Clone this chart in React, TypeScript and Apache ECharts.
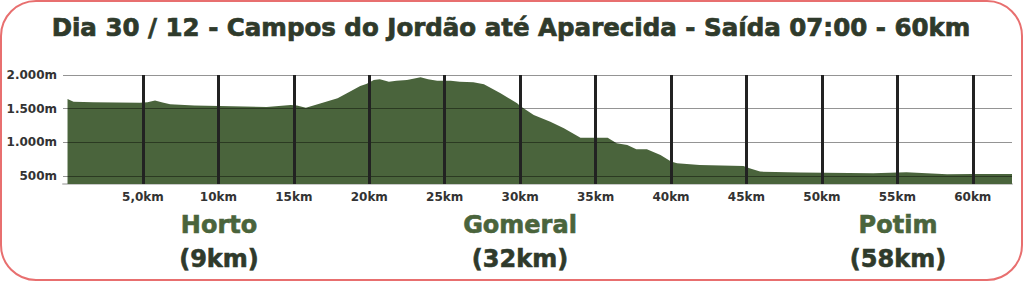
import React, { useEffect, useRef } from "react";
import * as echarts from "echarts";

const TITLE = "Dia 30 / 12 - Campos do Jordão até Aparecida - Saída 07:00 - 60km";

const distanceKm = [
  0, 0.4, 1.7, 4.8, 5.3, 5.8, 6.3, 6.8, 8.4, 11.7, 13.2, 14.8, 15.2, 15.8, 16.8,
  17.9, 18.7, 19.4, 19.8, 20.3, 20.7, 21.3, 21.8, 22.5, 23.4, 23.9, 24.5, 25.4,
  26.0, 26.9, 27.6, 28.7, 29.8, 30.0, 30.9, 32.0, 32.9, 34.0, 35.8, 36.4, 37.1,
  37.7, 38.4, 39.3, 40.0, 40.4, 41.9, 44.8, 45.2, 45.9, 48.6, 53.4, 55.6, 58.3,
  60.0, 62.6,
];
const elevationM = [
  1644, 1604, 1594, 1589, 1595, 1622, 1590, 1565, 1545, 1530, 1525, 1555, 1545,
  1515, 1580, 1654, 1752, 1837, 1866, 1926, 1936, 1901, 1916, 1926, 1966, 1936,
  1916, 1916, 1901, 1891, 1862, 1728, 1580, 1540, 1406, 1307, 1208, 1069, 1069,
  985, 960, 897, 897, 812, 713, 689, 663, 649, 614, 564, 550, 540, 555, 525, 530,
  530,
];

const kmTicks = [5, 10, 15, 20, 25, 30, 35, 40, 45, 50, 55, 60];
const kmTickLabels = ["5,0km", "10km", "15km", "20km", "25km", "30km", "35km", "40km", "45km", "50km", "55km", "60km"];
const elevTicks = [500, 1000, 1500, 2000];
const elevTickLabels = ["500m", "1.000m", "1.500m", "2.000m"];

const stops = ["Horto", "Gomeral", "Potim"];
const stopDistances = ["(9km)", "(32km)", "(58km)"];

const GREEN = "#4a643c";
const DARK = "#2f3a2b";
const FONT = "'DejaVu Sans', sans-serif";

export default function App() {
  const ref = useRef<HTMLDivElement>(null);

  useEffect(() => {
    if (!ref.current) return;
    const chart = echarts.init(ref.current, undefined, { renderer: "svg" });
    const data = distanceKm.map((d, i) => [d, elevationM[i]]);
    const stopX = [219, 520, 898];

    const graphic: any[] = [
      {
        type: "rect",
        shape: { x: 1, y: 1, width: 1021, height: 279, r: 35 },
        style: { fill: "none", stroke: "#e86f6f", lineWidth: 2 },
        silent: true,
      },
      {
        type: "text",
        x: 511,
        y: 27,
        style: {
          text: TITLE,
          fill: DARK,
          stroke: DARK,
          lineWidth: 0.7,
          font: `bold 24.5px ${FONT}`,
          align: "center",
          verticalAlign: "middle",
        },
      },
    ];
    stops.forEach((s, i) => {
      graphic.push({
        type: "text",
        x: stopX[i],
        y: 225,
        style: { text: s, fill: GREEN, stroke: GREEN, lineWidth: 0.6, font: `bold 24px ${FONT}`, align: "center", verticalAlign: "middle" },
      });
      graphic.push({
        type: "text",
        x: stopX[i],
        y: 259,
        style: { text: stopDistances[i], fill: DARK, stroke: DARK, lineWidth: 0.6, font: `bold 24px ${FONT}`, align: "center", verticalAlign: "middle" },
      });
    });

    chart.setOption({
      animation: false,
      grid: { left: 63, right: 12, top: 75, bottom: 98, containLabel: false },
      xAxis: {
        type: "value",
        min: -0.3,
        max: 62.6,
        axisLine: { show: true, lineStyle: { color: "#c8c8c8", width: 2 } },
        axisTick: { show: false },
        splitLine: { show: false },
        axisLabel: {
          customValues: kmTicks,
          margin: 7,
          color: "#333",
          fontFamily: FONT,
          fontWeight: "bold",
          fontSize: 12,
          formatter: (v: number) => {
            const i = kmTicks.indexOf(v);
            return i >= 0 ? kmTickLabels[i] : "";
          },
        },
      },
      yAxis: {
        type: "value",
        min: 380,
        max: 2000,
        axisLine: { show: false },
        axisTick: { show: false },
        splitLine: { show: false },
        axisLabel: {
          customValues: elevTicks,
          margin: 6,
          color: "#333",
          fontFamily: FONT,
          fontWeight: "bold",
          fontSize: 12,
          formatter: (v: number) => {
            const i = elevTicks.indexOf(v);
            return i >= 0 ? elevTickLabels[i] : "";
          },
        },
      },
      series: [
        {
          type: "line",
          data,
          showSymbol: false,
          silent: true,
          lineStyle: { width: 0 },
          areaStyle: { color: GREEN, opacity: 1, origin: "start" },
          z: 2,
        },
        {
          type: "line",
          data,
          showSymbol: false,
          silent: true,
          lineStyle: { width: 0, opacity: 0 },
          z: 10,
          markLine: {
            silent: true,
            symbol: ["none", "none"],
            label: { show: false },
            animation: false,
            data: [
              ...elevTicks.map((v) => ({ yAxis: v, lineStyle: { color: "rgba(0,0,0,0.42)", width: 1, type: "solid" } })),
              ...kmTicks.map((v) => ({ xAxis: v, lineStyle: { color: "#222", width: 3, type: "solid" } })),
            ],
          },
        },
      ],
      graphic,
    });

    return () => chart.dispose();
  }, []);

  return (
    <div
      ref={ref}
      style={{ position: "fixed", left: 0, top: 0, width: 1024, height: 282, background: "#fff" }}
    />
  );
}
